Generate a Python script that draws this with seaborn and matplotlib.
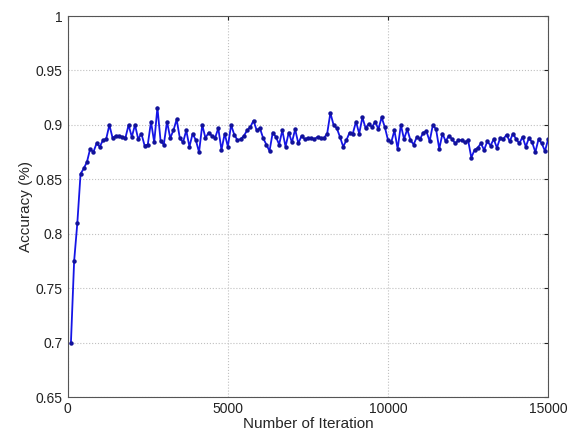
import matplotlib
matplotlib.use("Agg")
from matplotlib import pyplot as plt
import pandas as pd
import seaborn as sns

iterations = list(range(100, 15001, 100))
accuracy = [
    0.700, 0.775, 0.810, 0.855, 0.860, 0.866, 0.878, 0.875, 0.883, 0.880,
    0.886, 0.887, 0.900, 0.888, 0.890, 0.890, 0.889, 0.888, 0.900, 0.889,
    0.900, 0.887, 0.892, 0.881, 0.882, 0.903, 0.884, 0.916, 0.885, 0.882,
    0.903, 0.888, 0.895, 0.905, 0.888, 0.884, 0.895, 0.880, 0.892, 0.886,
    0.875, 0.900, 0.888, 0.893, 0.890, 0.888, 0.897, 0.877, 0.892, 0.880,
    0.900, 0.891, 0.886, 0.887, 0.890, 0.895, 0.898, 0.904, 0.895, 0.897,
    0.888, 0.882, 0.876, 0.893, 0.889, 0.882, 0.895, 0.880, 0.893, 0.884,
    0.896, 0.883, 0.890, 0.887, 0.888, 0.888, 0.887, 0.889, 0.888, 0.888,
    0.892, 0.911, 0.900, 0.897, 0.889, 0.880, 0.886, 0.893, 0.892, 0.903,
    0.892, 0.907, 0.897, 0.901, 0.898, 0.903, 0.896, 0.907, 0.898, 0.886,
    0.884, 0.895, 0.878, 0.900, 0.887, 0.896, 0.886, 0.882, 0.889, 0.887,
    0.893, 0.894, 0.885, 0.900, 0.896, 0.878, 0.892, 0.885, 0.890, 0.887,
    0.883, 0.886, 0.886, 0.884, 0.886, 0.870, 0.877, 0.879, 0.883, 0.877,
    0.885, 0.881, 0.887, 0.879, 0.888, 0.887, 0.891, 0.885, 0.892, 0.887,
    0.883, 0.889, 0.880, 0.888, 0.884, 0.875, 0.887, 0.883, 0.876, 0.887,
]
x_ticks = [0, 5000, 10000, 15000]
y_ticks = [0.65, 0.7, 0.75, 0.8, 0.85, 0.9, 0.95, 1]
y_labels = ["0.65", "0.7", "0.75", "0.8", "0.85", "0.9", "0.95", "1"]

df = pd.DataFrame({"Iteration": iterations, "Accuracy": accuracy})

sns.set_style("white")
plt.rcParams["font.family"] = ["Liberation Sans", "DejaVu Sans"]

fig = plt.figure(figsize=(5.74, 4.34), dpi=100)
ax = fig.add_axes([0.118, 0.085, 0.837, 0.878])
sns.lineplot(data=df, x="Iteration", y="Accuracy", ax=ax, color="#1515e6",
             linewidth=1.3, marker="o", markersize=3.2, markeredgewidth=0,
             markerfacecolor="#12129a")

ax.set_xlim(0, 15000)
ax.set_ylim(0.65, 1)
ax.set_xticks(x_ticks)
ax.set_yticks(y_ticks)
ax.set_yticklabels(y_labels)
ax.grid(True, linestyle=":", color="#c0c0c0", linewidth=0.8)
ax.tick_params(direction="in", length=3, labelsize=10, colors="#222222",
               top=True, right=True)
for s in ax.spines.values():
    s.set_color("#555555")
    s.set_linewidth(0.8)
ax.set_xlabel("Number of Iteration", fontsize=11, labelpad=1)
ax.set_ylabel("Accuracy (%)", fontsize=11, labelpad=2)

fig.savefig("out.png", dpi=100)
